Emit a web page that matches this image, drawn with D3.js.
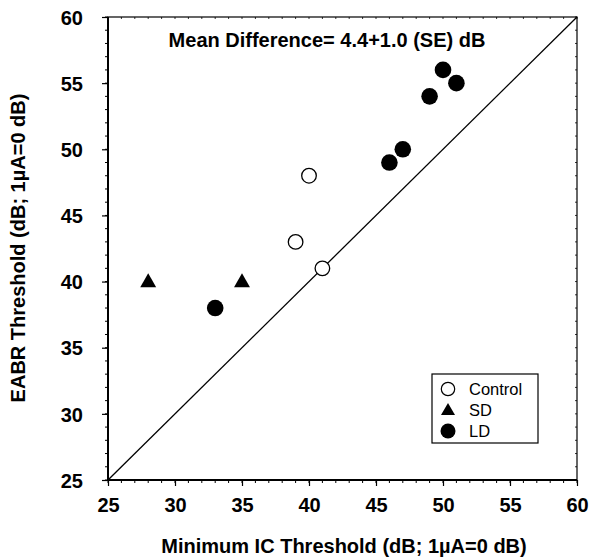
<!DOCTYPE html>
<html><head><meta charset="utf-8">
<script src="https://cdn.jsdelivr.net/npm/d3@7"></script>
<style>body{margin:0;background:#fff}svg{display:block}text{font-family:"Liberation Sans",Arial,sans-serif;font-weight:bold;fill:#000}</style>
</head><body>
<script>
const xTicks=[25,30,35,40,45,50,55,60];
const yTicks=[25,30,35,40,45,50,55,60];
const controlX=[40,39,41], controlY=[48,43,41];
const sdX=[28,35], sdY=[40,40];
const ldX=[33,46,47,49,50,51], ldY=[38,49,50,54,56,55];
const legendLabels=["Control","SD","LD"];
const titleText="Mean Difference= 4.4+1.0 (SE) dB";
const xLabel="Minimum IC Threshold (dB; 1\u00b5A=0 dB)";
const yLabel="EABR Threshold (dB; 1\u00b5A=0 dB)";

const W=591,H=558;
const L=108,R=577,T=17,B=480;
const svg=d3.select("body").append("svg").attr("width",W).attr("height",H);
const x=d3.scaleLinear().domain([25,60]).range([L,R]);
const y=d3.scaleLinear().domain([25,60]).range([B,T]);
const minor=d3.range(25,61,1);
const FONT="Liberation Sans, Arial, sans-serif";

// frame
svg.append("rect").attr("x",L).attr("y",T).attr("width",R-L).attr("height",B-T).attr("fill","none").attr("stroke","#000").attr("stroke-width",1.2);
svg.append("line").attr("x1",L).attr("x2",L).attr("y1",T).attr("y2",B).attr("stroke","#000").attr("stroke-width",2);
svg.append("line").attr("x1",L).attr("x2",R).attr("y1",B).attr("y2",B).attr("stroke","#000").attr("stroke-width",2);

// bottom axis
const xa=d3.axisBottom(x).tickValues(xTicks).tickSize(6).tickFormat(d3.format("d"));
const gx=svg.append("g").attr("transform",`translate(0,${B})`).call(xa);
gx.select(".domain").remove();
gx.selectAll("line").attr("stroke-width",1.2);
gx.selectAll("text").attr("dy",0).attr("y",32).style("font-size","20px").style("font-family",FONT).style("font-weight","bold");
svg.append("g").selectAll("line").data(minor).join("line")
  .attr("x1",d=>x(d)).attr("x2",d=>x(d)).attr("y1",B).attr("y2",B+3).attr("stroke","#000");
// left axis
const ya=d3.axisLeft(y).tickValues(yTicks).tickSize(6).tickFormat(d3.format("d"));
const gy=svg.append("g").attr("transform",`translate(${L},0)`).call(ya);
gy.select(".domain").remove();
gy.selectAll("line").attr("stroke-width",1.2);
gy.selectAll("text").attr("x",-25).attr("dy","0.36em").style("font-size","20px").style("font-family",FONT).style("font-weight","bold");
svg.append("g").selectAll("line").data(minor).join("line")
  .attr("x1",L).attr("x2",L-3).attr("y1",d=>y(d)).attr("y2",d=>y(d)).attr("stroke","#000");
// top & right tiny ticks
svg.append("g").selectAll("line").data(minor).join("line")
  .attr("x1",d=>x(d)).attr("x2",d=>x(d)).attr("y1",T).attr("y2",T+2).attr("stroke","#000").attr("stroke-width",0.8);
svg.append("g").selectAll("line").data(minor).join("line")
  .attr("x1",R).attr("x2",R-2).attr("y1",d=>y(d)).attr("y2",d=>y(d)).attr("stroke","#000").attr("stroke-width",0.8);

// diagonal
svg.append("line").attr("x1",x(25)).attr("y1",y(25)).attr("x2",x(60)).attr("y2",y(60)).attr("stroke","#000").attr("stroke-width",1.3);

// title
svg.append("text").attr("x",327).attr("y",47).attr("text-anchor","middle").style("font-size","20px").text(titleText);

// points
const tri=d3.symbol().type(d3.symbolTriangle).size(110);
svg.append("g").selectAll("circle").data(d3.zip(ldX,ldY)).join("circle")
  .attr("cx",d=>x(d[0])).attr("cy",d=>y(d[1])).attr("r",8.3).attr("fill","#000");
svg.append("g").selectAll("path").data(d3.zip(sdX,sdY)).join("path")
  .attr("d",tri).attr("transform",d=>`translate(${x(d[0])},${y(d[1])+1})`).attr("fill","#000");
svg.append("g").selectAll("circle").data(d3.zip(controlX,controlY)).join("circle")
  .attr("cx",d=>x(d[0])).attr("cy",d=>y(d[1])).attr("r",7.3).attr("fill","#fff").attr("stroke","#000").attr("stroke-width",1.3);

// legend
const lg=svg.append("g");
lg.append("rect").attr("x",432).attr("y",374).attr("width",106).attr("height",69).attr("fill","#fff").attr("stroke","#000").attr("stroke-width",1.2);
const ly=[389,410,431];
lg.append("circle").attr("cx",448).attr("cy",ly[0]).attr("r",6.7).attr("fill","#fff").attr("stroke","#000").attr("stroke-width",1.2);
lg.append("path").attr("d",d3.symbol().type(d3.symbolTriangle).size(85)).attr("transform",`translate(448,${ly[1]+1})`).attr("fill","#000");
lg.append("circle").attr("cx",448).attr("cy",ly[2]).attr("r",7.5).attr("fill","#000");
lg.selectAll("text.l").data(legendLabels).join("text").attr("class","l")
  .attr("x",469).attr("y",(d,i)=>ly[i]).attr("dy","0.36em").style("font-weight","normal").style("font-size","16.5px").text(d=>d);

// axis labels
svg.append("text").attr("x",344).attr("y",553).attr("text-anchor","middle").style("font-size","20px").text(xLabel);
svg.append("text").attr("transform",`translate(25,248) rotate(-90)`).attr("text-anchor","middle").style("font-size","20px").text(yLabel);
</script>
</body></html>
